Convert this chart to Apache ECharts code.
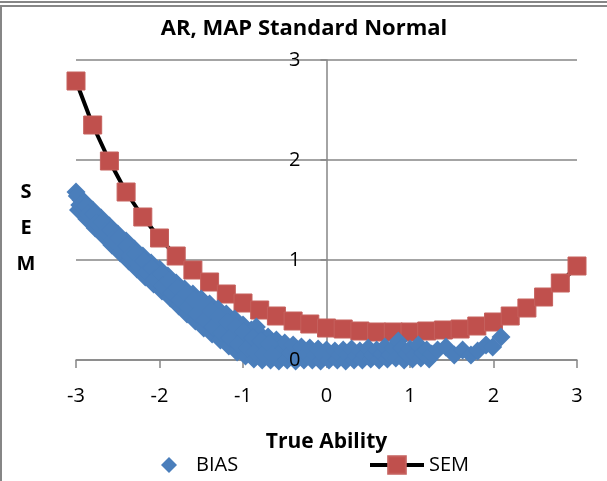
<!DOCTYPE html>
<html>
<head>
<meta charset="utf-8">
<script src="https://cdn.jsdelivr.net/npm/echarts@6/dist/echarts.min.js"></script>
<style>
  html, body { margin: 0; padding: 0; background: #fff; }
  #main { width: 607px; height: 481px; }
</style>
</head>
<body>
<div id="main"></div>
<script>
var xTicks = [-3, -2, -1, 0, 1, 2, 3];
var yTicks = [0, 1, 2, 3];

// SEM curve (red squares joined by a black line)
var semX = [-3.0, -2.8, -2.6, -2.4, -2.2, -2.0, -1.8, -1.6, -1.4, -1.2, -1.0, -0.8, -0.6, -0.4, -0.2,
            0.0, 0.2, 0.4, 0.6, 0.8, 1.0, 1.2, 1.4, 1.6, 1.8, 2.0, 2.2, 2.4, 2.6, 2.8, 3.0];
var semY = [2.79, 2.35, 1.99, 1.68, 1.43, 1.22, 1.04, 0.90, 0.78, 0.66, 0.57, 0.50, 0.44, 0.39, 0.36,
            0.32, 0.31, 0.29, 0.28, 0.28, 0.28, 0.29, 0.30, 0.31, 0.34, 0.38, 0.44, 0.52, 0.63, 0.77, 0.94];

// BIAS points (blue diamonds)
var biasX = [
  -3.00, -2.97, -2.94, -2.90, -2.87, -2.84, -2.80, -2.77, -2.74, -2.70, -2.67, -2.64,
  -2.60, -2.57, -2.54, -2.50, -2.47, -2.44, -2.40, -2.37, -2.34, -2.30, -2.27, -2.24,
  -2.20, -2.17, -2.14, -2.10, -2.07, -2.04, -2.00, -1.97, -1.94, -1.90, -1.87, -1.84,
  -1.80, -1.77, -1.74, -1.70, -1.67, -1.64, -1.60, -1.57, -1.54, -1.50, -1.47, -1.44,
  -1.40, -1.37, -1.34, -1.30, -1.27, -1.24, -1.20, -1.17, -1.14, -1.10, -1.07, -1.04,
  -1.00, -0.97, -0.94, -0.90, -0.87, -0.84, -0.80, -0.77, -0.74, -0.70, -0.67, -0.64,
  -0.60, -0.57, -0.54, -0.50, -0.47, -0.44, -0.40, -0.37, -0.34, -0.30, -0.27, -0.24,
  -0.20, -0.17, -0.14, -0.10, -0.07, -0.04, 0.00, 0.03, 0.06, 0.10, 0.13, 0.16,
  0.20, 0.23, 0.26, 0.30, 0.33, 0.36, 0.40, 0.43, 0.46, 0.50, 0.53, 0.56,
  0.60, 0.63, 0.66, 0.70, 0.73, 0.76, 0.80, 0.83, 0.86, 0.90, 0.93, 0.96,
  1.00, 1.03, 1.06, 1.10, 1.13, 1.16, 1.20, 1.23, 1.26, 1.33, 1.43, 1.53,
  1.63, 1.73, 1.81, 1.91, 1.99, 2.09,
  -2.985, -2.955, -2.885, -2.855, -2.785, -2.755, -2.685, -2.655, -2.585, -2.555,
  -2.485, -2.455, -2.385, -2.355, -2.285, -2.255, -2.185, -2.155, -2.085, -2.055,
  -1.985, -1.955, -1.885, -1.855, -1.785, -1.755, -1.685, -1.655, -1.585, -1.555,
  -1.485, -1.455, -1.385, -1.355, -1.285, -1.255, -1.185, -1.155, -1.085, -1.055,
  -0.985, -0.955, -0.885, -0.855, -0.785, -0.755, -0.685, -0.655
];
var biasY = [
  1.68, 1.50, 1.60, 1.58, 1.41, 1.50, 1.50, 1.32, 1.42, 1.42, 1.24, 1.33,
  1.34, 1.15, 1.25, 1.26, 1.07, 1.17, 1.19, 0.99, 1.09, 1.11, 0.91, 1.01,
  1.04, 0.83, 0.94, 0.97, 0.76, 0.86, 0.91, 0.69, 0.80, 0.84, 0.62, 0.73,
  0.77, 0.54, 0.66, 0.71, 0.46, 0.60, 0.66, 0.39, 0.53, 0.61, 0.32, 0.47,
  0.56, 0.26, 0.41, 0.51, 0.20, 0.35, 0.46, 0.14, 0.30, 0.41, 0.08, 0.25,
  0.35, 0.04, 0.20, 0.30, 0.01, 0.33, 0.26, 0.00, 0.12, 0.23, 0.00, 0.10,
  0.20, -0.01, 0.08, 0.17, 0.00, 0.07, 0.15, -0.01, 0.06, 0.13, 0.00, 0.06,
  0.12, 0.00, 0.05, 0.11, -0.01, 0.05, 0.10, 0.00, 0.04, 0.09, 0.00, 0.05,
  0.10, -0.01, 0.05, 0.11, 0.00, 0.04, 0.09, 0.00, 0.05, 0.12, 0.01, 0.05,
  0.10, 0.00, 0.06, 0.13, 0.01, 0.05, 0.12, 0.02, 0.19, 0.12, 0.00, 0.06,
  0.11, 0.01, 0.05, 0.15, 0.02, 0.07, 0.10, 0.01, 0.06, 0.10, 0.13, 0.05,
  0.10, 0.05, 0.09, 0.15, 0.13, 0.23,
  1.64, 1.55, 1.54, 1.46, 1.46, 1.37, 1.38, 1.28, 1.30, 1.20,
  1.22, 1.12, 1.14, 1.04, 1.06, 0.96, 0.99, 0.88, 0.92, 0.81,
  0.86, 0.74, 0.79, 0.67, 0.72, 0.60, 0.66, 0.53, 0.60, 0.46,
  0.54, 0.40, 0.49, 0.33, 0.43, 0.27, 0.38, 0.22, 0.33, 0.16,
  0.28, 0.12, 0.22, 0.08, 0.19, 0.06, 0.16, 0.05
];

var gridGray = '#868686';
var fontFam = '"Open Sans", "Liberation Sans", sans-serif';

var biasData = [];
for (var i = 0; i < biasX.length; i++) {
  biasData.push([biasX[i], biasY[i]]);
}
var semData = [];
for (var j = 0; j < semX.length; j++) {
  semData.push([semX[j], semY[j]]);
}

var chart = echarts.init(document.getElementById('main'), null, { renderer: 'canvas' });

var option = {
  backgroundColor: '#fff',
  animation: false,
  title: {
    text: 'AR, MAP Standard Normal',
    left: 299,
    top: 13,
    textAlign: 'center',
    textStyle: { fontFamily: fontFam, fontWeight: 'bold', fontSize: 22, color: '#000' }
  },
  graphic: [
    { type: 'line', shape: { x1: 0, y1: 2, x2: 607, y2: 2 }, style: { stroke: gridGray, lineWidth: 2 } },
    { type: 'line', shape: { x1: 0, y1: 6, x2: 607, y2: 6 }, style: { stroke: gridGray, lineWidth: 2 } },
    { type: 'line', shape: { x1: 1, y1: 5, x2: 1, y2: 481 }, style: { stroke: gridGray, lineWidth: 2 } },
    {
      type: 'text', x: 26, y: 228,
      style: {
        text: 'S\nE\nM', fill: '#000', align: 'center', verticalAlign: 'middle',
        font: 'bold 20px ' + fontFam, lineHeight: 36
      }
    }
  ],
  legend: [
    {
      data: ['BIAS'], left: 156, top: 450, itemWidth: 16, itemHeight: 16,
      textStyle: { fontFamily: fontFam, fontSize: 20, color: '#000', padding: [0, 0, 0, 14] }
    },
    {
      data: ['SEM'], left: 363, top: 450, itemWidth: 54, itemHeight: 22,
      lineStyle: { color: '#000', width: 4 },
      textStyle: { fontFamily: fontFam, fontSize: 20, color: '#000' }
    }
  ],
  grid: { left: 76, right: 30, top: 60, bottom: 121, containLabel: false },
  xAxis: {
    type: 'value',
    min: xTicks[0], max: xTicks[xTicks.length - 1], interval: 1,
    name: 'True Ability', nameLocation: 'middle', nameGap: 72,
    nameTextStyle: { fontFamily: fontFam, fontWeight: 'bold', fontSize: 21, color: '#000' },
    axisLine: { onZero: false, lineStyle: { color: gridGray, width: 1.5 } },
    axisTick: { show: true, length: 8, lineStyle: { color: gridGray, width: 1.5 } },
    axisLabel: { fontFamily: fontFam, fontSize: 20, color: '#000', margin: 26 },
    splitLine: { show: false }
  },
  yAxis: [
    {
      type: 'value',
      min: yTicks[0], max: yTicks[yTicks.length - 1], interval: 1,
      axisLine: { show: true, onZero: true, lineStyle: { color: gridGray, width: 1.5 } },
      axisTick: { show: true, length: 6, lineStyle: { color: gridGray, width: 1.5 } },
      axisLabel: { show: false },
      splitLine: { show: true, lineStyle: { color: gridGray, width: 1.5 } }
    },
    {
      type: 'value',
      position: 'left',
      offset: -250.5,
      z: 10,
      min: yTicks[0], max: yTicks[yTicks.length - 1], interval: 1,
      axisLine: { show: false, onZero: false },
      axisTick: { show: false },
      axisLabel: { fontFamily: fontFam, fontSize: 20, color: '#000', margin: 26 },
      splitLine: { show: false }
    }
  ],
  series: [
    {
      name: 'SEM',
      type: 'line',
      data: semData,
      z: 2,
      clip: false,
      symbol: 'rect',
      symbolSize: 18,
      showAllSymbol: true,
      itemStyle: { color: '#C0504D', borderColor: '#C5605D', borderWidth: 1 },
      lineStyle: { color: '#000', width: 4 }
    },
    {
      name: 'BIAS',
      type: 'scatter',
      data: biasData,
      z: 3,
      clip: false,
      symbol: 'diamond',
      symbolSize: 19,
      itemStyle: { color: '#4A7EBB', opacity: 1 }
    }
  ]
};

chart.setOption(option);
</script>
</body>
</html>
